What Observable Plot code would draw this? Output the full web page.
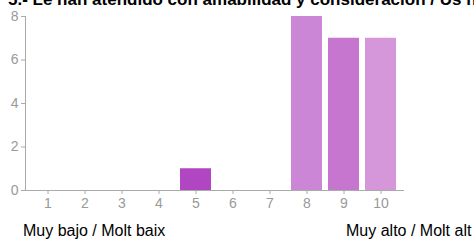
<!DOCTYPE html>
<html>
<head>
<meta charset="utf-8">
<script src="https://cdn.jsdelivr.net/npm/d3@7"></script>
<script src="https://cdn.jsdelivr.net/npm/@observablehq/plot@0.6"></script>
<style>
  html, body { margin: 0; padding: 0; background: #fff; }
  #wrap { position: relative; width: 474px; height: 242px; overflow: hidden; font-family: Arial, "Liberation Sans", sans-serif; }
  #title { position: absolute; left: 8px; top: -10px; line-height: 20px; white-space: nowrap; font-weight: bold; font-size: 17px; color: #000; }
  .foot { position: absolute; top: 222px; line-height: 18px; font-size: 16px; color: #000; white-space: nowrap; }
  #chart { position: absolute; left: 0; top: 0; }
</style>
</head>
<body>
<div id="wrap">
  <div id="chart"></div>
  <div id="title">5.- Le han atendido con amabilidad y consideración / Us han atès amb amabilitat i consideració</div>
  <div class="foot" style="left:23px">Muy bajo / Molt baix</div>
  <div class="foot" style="left:346px">Muy alto / Molt alt</div>
</div>
<script>
const categories = ["1", "2", "3", "4", "5", "6", "7", "8", "9", "10"];
const counts = [0, 0, 0, 0, 1, 0, 0, 8, 7, 7];
const barColors = ["#c77fd1", "#c77fd1", "#c77fd1", "#c77fd1", "#b046c1", "#c77fd1", "#c77fd1", "#cc86d6", "#c676ce", "#d596da"];
const yTicks = [0, 2, 4, 6, 8];

const data = categories.map((c, i) => ({cat: c, n: counts[i], color: barColors[i]}));

const chart = Plot.plot({
  width: 474,
  height: 242,
  marginLeft: 25,
  marginRight: 70,
  marginTop: 16,
  marginBottom: 52,
  style: {fontFamily: "Arial, 'Liberation Sans', sans-serif", fontSize: "14px", background: "transparent"},
  x: {domain: categories, paddingInner: 0.16, paddingOuter: 0.15, label: null},
  y: {domain: [0, 8], label: null},
  marks: [
    Plot.barY(data, {x: "cat", y: "n", fill: "color"}),
    Plot.axisY({ticks: yTicks, tickSize: 4, tickPadding: 3, stroke: "#aaa", color: "#999", fontSize: 14, label: null}),
    Plot.axisX({tickSize: 4, tickPadding: 4, stroke: "#aaa", color: "#999", fontSize: 14, label: null}),
    Plot.frame({anchor: "left", stroke: "#aaa"}),
    Plot.ruleY([0], {stroke: "#aaa"})
  ]
});
document.getElementById("chart").appendChild(chart);
</script>
</body>
</html>
